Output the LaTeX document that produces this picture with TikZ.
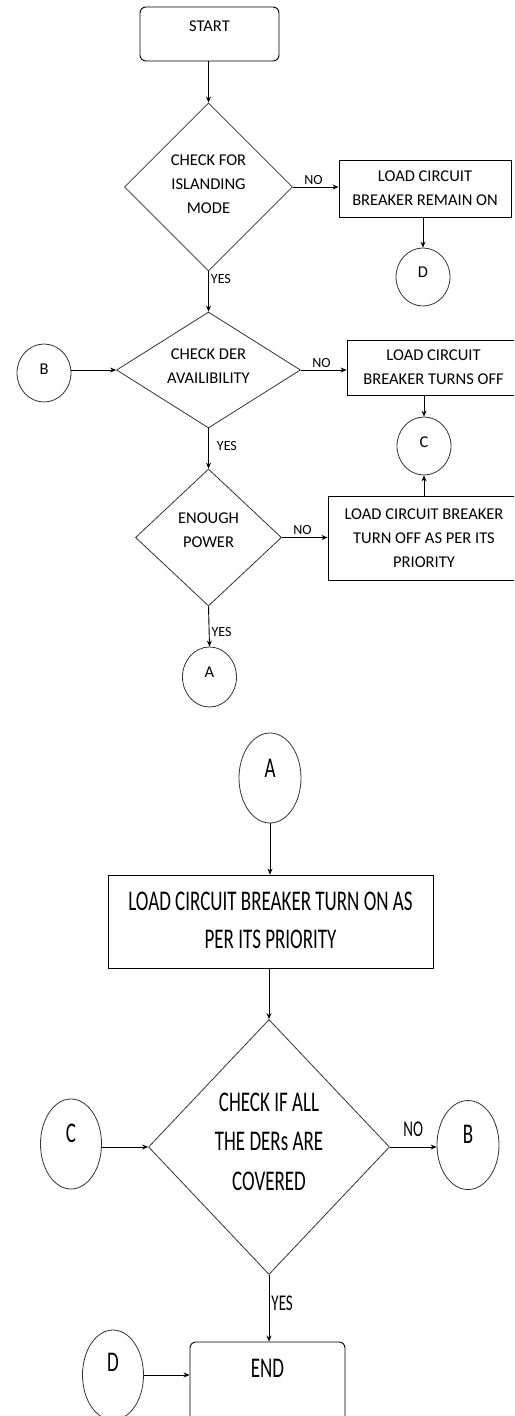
\documentclass[tikz,border=0pt]{standalone}
\usepackage{fontspec}
\setmainfont{Carlito}
\usepackage{graphicx}
\usetikzlibrary{shapes.geometric,arrows.meta}
\newcommand\talltxt[1]{\scalebox{1}[1.5]{\begin{tabular}{@{}c@{}}#1\end{tabular}}}
\begin{document}
\begin{tikzpicture}[x=1pt,y=-1pt,
  txt/.style={font=\fontsize{16.5}{24}\selectfont},
  bigtxt/.style={font=\fontsize{19}{25.5}\selectfont},
  lab/.style={font=\fontsize{14}{16}\selectfont, inner sep=2pt},
  biglab/.style={font=\fontsize{15}{18}\selectfont, inner sep=2pt},
  procbox/.style={draw, line width=0.9pt, inner sep=0pt, align=center, txt},
  termbox/.style={procbox, rounded corners=6pt},
  dia/.style={draw=black!80, diamond, inner sep=0pt, line width=0.8pt},
  conn/.style={draw=black!80, ellipse, inner sep=0pt, line width=0.8pt, txt},
  arr/.style={-{Stealth[length=6pt,width=5pt]}, line width=0.9pt},
]
\useasboundingbox (0,0) rectangle (514,1416);
\clip (0,0) rectangle (514,1416);

% ---------- upper part ----------
\node[termbox, minimum width=139pt, minimum height=54pt,
      label={[txt,yshift=8pt]center:START}] (start) at (209.5,34) {};
\node[dia, minimum width=168pt, minimum height=168pt,
      label={[txt,align=center,yshift=3pt]center:CHECK FOR\\ISLANDING\\MODE}] (d1) at (208.5,187) {};
\node[procbox, minimum width=172pt, minimum height=57pt] (b1) at (425,188.5) {LOAD CIRCUIT\\BREAKER REMAIN ON};
\node[conn, minimum width=54pt, minimum height=58pt,
      label={[txt,yshift=5pt]center:D}] (cD1) at (423,277) {};

\node[dia, minimum width=184pt, minimum height=116pt,
      label={[txt,align=center,yshift=4pt]center:CHECK DER\\AVAILIBILITY}] (d2) at (208.5,370) {};
\node[conn, minimum width=54pt, minimum height=58pt,
      label={[txt,yshift=4pt]center:B}] (cB1) at (44,373) {};
\node[procbox, minimum width=173pt, minimum height=55pt] (b2) at (433.5,367.5) {LOAD CIRCUIT\\BREAKER TURNS OFF};
\node[conn, minimum width=54pt, minimum height=58pt,
      label={[txt,yshift=4pt]center:C}] (cC1) at (424,446) {};

\node[dia, minimum width=146pt, minimum height=137pt,
      label={[txt,align=center,yshift=7pt]center:ENOUGH\\POWER}] (d3) at (208.5,537.5) {};
\node[procbox, minimum width=192pt, minimum height=84pt] (b3) at (424,538) {LOAD CIRCUIT BREAKER\\TURN OFF AS PER ITS\\PRIORITY};
\node[conn, minimum width=54pt, minimum height=60pt,
      label={[txt,yshift=5pt]center:A}] (cA1) at (209.5,677) {};

% ---------- lower part ----------
\node[conn, minimum width=62pt, minimum height=90pt,
      label={[bigtxt,yshift=8pt]center:\talltxt{A}}] (cA2) at (270,778) {};
\node[procbox, bigtxt, minimum width=325pt, minimum height=93pt] (b4) at (270.5,921.5)
  {\talltxt{LOAD CIRCUIT BREAKER TURN ON AS\\PER ITS PRIORITY}};
\node[dia, minimum width=241pt, minimum height=255pt,
      label={[font=\fontsize{19}{26.5}\selectfont,yshift=4pt]center:\talltxt{CHECK IF ALL\\THE DERs ARE\\COVERED}}] (d4) at (269,1147) {};
\node[conn, minimum width=61pt, minimum height=90pt,
      label={[bigtxt,yshift=9pt]center:\talltxt{C}}] (cC2) at (71,1144) {};
\node[conn, minimum width=62pt, minimum height=89pt,
      label={[bigtxt,yshift=9pt]center:\talltxt{B}}] (cB2) at (468,1145) {};
\node[termbox, minimum width=155pt, minimum height=80pt,
      label={[bigtxt,yshift=12pt]center:\talltxt{END}}] (end) at (267.5,1382) {};
\node[conn, minimum width=61pt, minimum height=90pt,
      label={[bigtxt,yshift=11pt]center:\talltxt{D}}] (cD2) at (113,1375) {};

% ---------- connectors ----------
\draw[arr] (start.south -| d1.north) -- (d1.north);
\draw[arr] (d1.east) -- node[lab, above, pos=0.45]{NO} (d1.east -| b1.west);
\draw[arr] (cD1.north |- b1.south) -- (cD1.north);
\draw[arr] (d1.south) -- node[lab, right, pos=0.2]{YES} (d2.north);
\draw[arr] (cB1.east |- d2.west) -- (d2.west);
\draw[arr] (d2.east) -- node[lab, above, pos=0.45]{NO} (d2.east -| b2.west);
\draw[arr] (cC1.north |- b2.south) -- (cC1.north);
\draw[arr] (cC1.south |- b3.north) -- (cC1.south);
\draw[arr] (d2.south) -- node[lab, right, pos=0.45, xshift=6pt]{YES} (d3.north);
\draw[arr] (d3.east) -- node[lab, above, pos=0.45]{NO} (d3.east -| b3.west);
\draw[arr] (d3.south) -- node[lab, right, pos=0.63]{YES} (cA1.north);

\draw[arr] (cA2.south) -- (cA2.south |- b4.north);
\draw[arr] (d4.north |- b4.south) -- (d4.north);
\draw[arr] (cC2.east |- d4.west) -- (d4.west);
\draw[arr] (d4.east) -- node[biglab, above, pos=0.5]{\talltxt{NO}} (d4.east -| cB2.west);
\draw[arr] (d4.south) -- node[biglab, right, pos=0.45]{\talltxt{YES}} (d4.south |- end.north);
\draw[arr] (cD2.east) -- (cD2.east -| end.west);
\end{tikzpicture}
\end{document}
